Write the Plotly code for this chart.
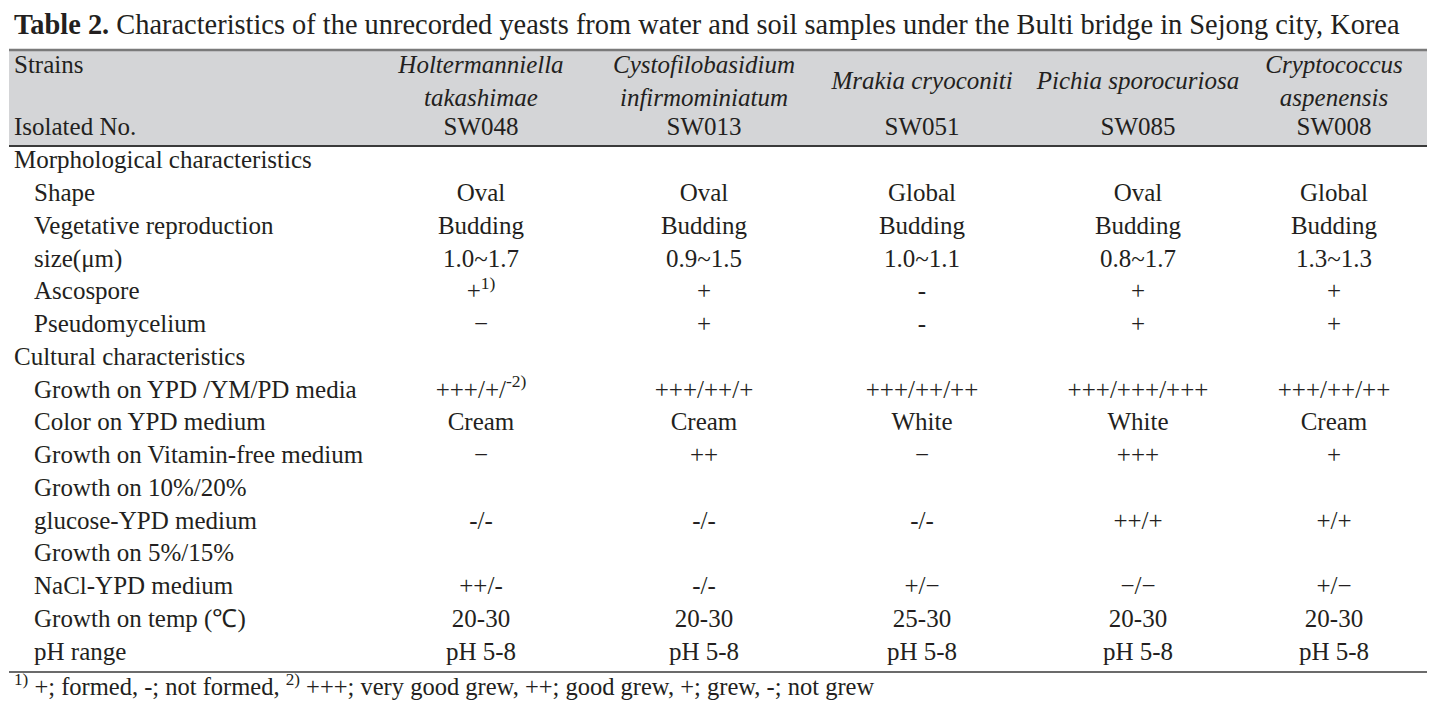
import plotly.graph_objects as go

# ---------------- data ----------------
title_bold = "Table 2."
title_rest = " Characteristics of the unrecorded yeasts from water and soil samples under the Bulti bridge in Sejong city, Korea"

strains = ["Holtermanniella<br>takashimae", "Cystofilobasidium<br>infirmominiatum",
           "Mrakia cryoconiti", "Pichia sporocuriosa", "Cryptococcus<br>aspenensis"]
isolated = ["SW048", "SW013", "SW051", "SW085", "SW008"]

row_labels = ["Morphological characteristics", "Shape", "Vegetative reproduction", "size(μm)",
              "Ascospore", "Pseudomycelium", "Cultural characteristics",
              "Growth on YPD /YM/PD media", "Color on YPD medium", "Growth on Vitamin-free medium",
              "Growth on 10%/20%", "glucose-YPD medium", "Growth on 5%/15%", "NaCl-YPD medium",
              "Growth on temp (℃)", "pH range"]
row_indent = [0, 1, 1, 1, 1, 1, 0, 1, 1, 1, 1, 1, 1, 1, 1, 1]

col_SW048 = ["", "Oval", "Budding", "1.0~1.7", "+<sup>1)</sup>", "−", "",
             "+++/+/<sup>-2)</sup>", "Cream", "−", "", "-/-", "", "++/-", "20-30", "pH 5-8"]
col_SW013 = ["", "Oval", "Budding", "0.9~1.5", "+", "+", "",
             "+++/++/+", "Cream", "++", "", "-/-", "", "-/-", "20-30", "pH 5-8"]
col_SW051 = ["", "Global", "Budding", "1.0~1.1", "-", "-", "",
             "+++/++/++", "White", "−", "", "-/-", "", "+/−", "25-30", "pH 5-8"]
col_SW085 = ["", "Oval", "Budding", "0.8~1.7", "+", "+", "",
             "+++/+++/+++", "White", "+++", "", "++/+", "", "−/−", "20-30", "pH 5-8"]
col_SW008 = ["", "Global", "Budding", "1.3~1.3", "+", "+", "",
             "+++/++/++", "Cream", "+", "", "+/+", "", "+/−", "20-30", "pH 5-8"]
columns = [col_SW048, col_SW013, col_SW051, col_SW085, col_SW008]

footnote = ("<sup>1)</sup> +; formed, -; not formed, <sup>2)</sup> +++; very good grew, "
            "++; good grew, +; grew, -; not grew")

# ---------------- layout geometry ----------------
W, H = 1447, 708
PAGE_OFF = 8          # default page body margin of the html page
TXT = "#231f20"
FONT = "Liberation Serif, Times New Roman, serif"
FS = 25
col_x = [481, 704, 922, 1138, 1334]
label_x = [14, 34]
body_y0, row_h = 162, 32.75
header_top, header_bot = 50, 146
table_left, table_right = 9, 1427
body_bottom = 672

fig = go.Figure()

def text_trace(xs, ys, texts, pos):
    keep = [(x, y, t) for x, y, t in zip(xs, ys, texts) if t]
    fig.add_trace(go.Scatter(
        x=[k[0] for k in keep], y=[k[1] for k in keep], mode="text",
        text=[k[2] for k in keep], textposition=pos,
        textfont=dict(family=FONT, size=FS, color=TXT),
        hoverinfo="skip", showlegend=False))

# header texts
text_trace([label_x[0], label_x[0]], [67, 129], ["Strains", "Isolated No."], "middle right")
text_trace(col_x, [83] * len(strains), [f"<i>{s}</i>" for s in strains], "middle center")
text_trace(col_x, [129] * len(isolated), isolated, "middle center")

# body row labels and values
row_y = [body_y0 + i * row_h for i in range(len(row_labels))]
text_trace([label_x[k] for k in row_indent], row_y, row_labels, "middle right")
for cx, vals in zip(col_x, columns):
    text_trace([cx] * len(vals), row_y, vals, "middle center")

# header band and rules
fig.add_shape(type="rect", x0=table_left, x1=table_right, y0=header_top, y1=header_bot,
              fillcolor="#d4d5d7", line_width=0, layer="below")
fig.add_shape(type="line", x0=table_left, x1=table_right, y0=header_top, y1=header_top,
              line=dict(color="#7a7a7a", width=2.5))
fig.add_shape(type="line", x0=table_left, x1=table_right, y0=header_bot, y1=header_bot,
              line=dict(color="#3a3a3a", width=1.8))
fig.add_shape(type="line", x0=table_left, x1=table_right, y0=body_bottom, y1=body_bottom,
              line=dict(color="#3a3a3a", width=1.6))

# title and footnote
fig.add_annotation(x=12, y=24, xref="x", yref="y", xanchor="left", yanchor="middle",
                   text=f"<b>{title_bold}</b>{title_rest}", showarrow=False,
                   font=dict(family=FONT, size=28.4, color=TXT))
fig.add_annotation(x=12, y=685, xref="x", yref="y", xanchor="left", yanchor="middle",
                   text=footnote, showarrow=False,
                   font=dict(family=FONT, size=24.5, color=TXT))

fig.update_layout(
    width=W - 2 * PAGE_OFF, height=H - 2 * PAGE_OFF, margin=dict(l=0, r=0, t=0, b=0),
    paper_bgcolor="white", plot_bgcolor="white",
    xaxis=dict(range=[PAGE_OFF, W - PAGE_OFF], visible=False, fixedrange=True),
    yaxis=dict(range=[H - PAGE_OFF, PAGE_OFF], visible=False, fixedrange=True),
)

fig.write_html("out.html")
